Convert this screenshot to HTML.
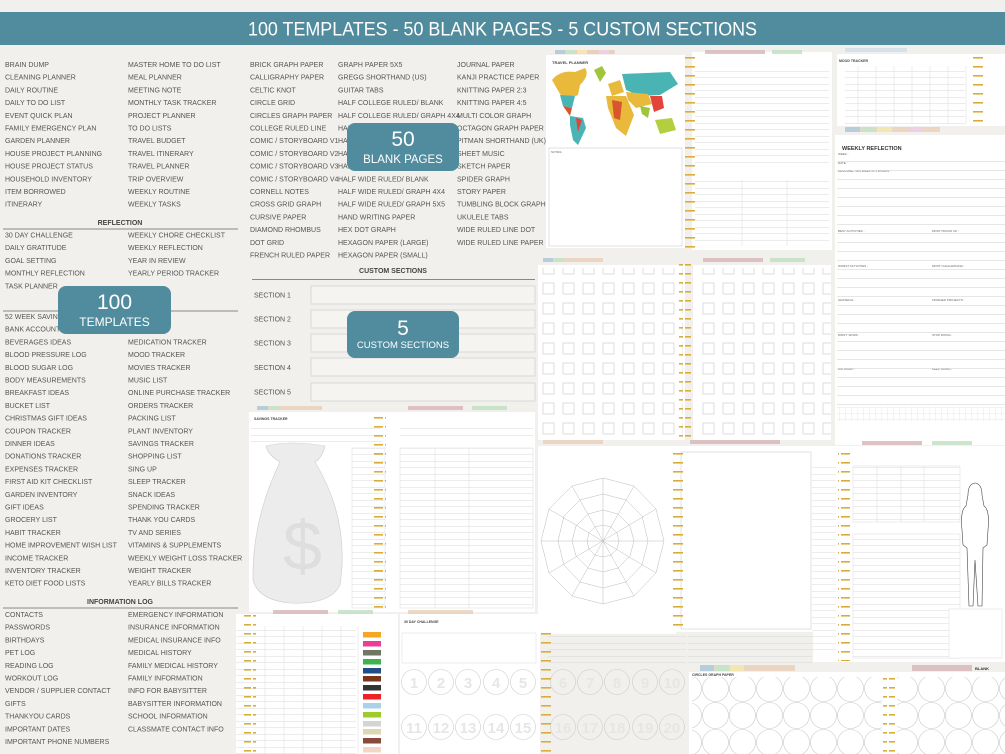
<!DOCTYPE html>
<html><head><meta charset="utf-8"><style>
html,body{margin:0;padding:0;background:#f1f0ec;}
svg{display:block;font-family:"Liberation Sans",sans-serif;}
.t{font-size:7px;fill:#555;}
.h{font-size:7px;fill:#444;font-weight:bold;}
.s{font-size:3px;fill:#666;}
</style></head><body>
<svg width="1005" height="754" viewBox="0 0 1005 754" xmlns="http://www.w3.org/2000/svg">
<defs>
<pattern id="ring" width="12" height="9" patternUnits="userSpaceOnUse"><rect x="1" y="3" width="10" height="1.6" fill="#d9ad3a"/></pattern>
<pattern id="ln" width="10" height="9" patternUnits="userSpaceOnUse"><rect width="10" height="0.6" y="8" fill="#d4d4d4"/></pattern>
<pattern id="ln6" width="10" height="6.5" patternUnits="userSpaceOnUse"><rect width="10" height="0.5" y="6" fill="#d8d8d8"/></pattern>
<pattern id="sq" width="20" height="20" patternUnits="userSpaceOnUse"><rect x="3" y="3" width="11" height="11" fill="none" stroke="#d0d0d0" stroke-width="0.7"/></pattern>
<pattern id="cir" width="27" height="27" patternUnits="userSpaceOnUse"><circle cx="13.5" cy="13.5" r="13" fill="none" stroke="#c8c8c8" stroke-width="0.6"/></pattern>
<pattern id="grid" width="6" height="6" patternUnits="userSpaceOnUse"><path d="M6 0V6M0 6H6" stroke="#d0d0d0" stroke-width="0.5" fill="none"/></pattern>
</defs>

<!-- header -->
<rect x="0" y="12" width="1005" height="33" fill="#518c9e"/>
<text x="248" y="35.5" textLength="509" lengthAdjust="spacingAndGlyphs" font-size="19.5" fill="#fff">100 TEMPLATES - 50 BLANK PAGES - 5 CUSTOM SECTIONS</text>

<!-- left list -->
<g class="t">
<text x="5" y="67">BRAIN DUMP</text><text x="5" y="79.7">CLEANING PLANNER</text><text x="5" y="92.4">DAILY ROUTINE</text><text x="5" y="105.1">DAILY TO DO LIST</text><text x="5" y="117.8">EVENT QUICK PLAN</text><text x="5" y="130.5">FAMILY EMERGENCY PLAN</text><text x="5" y="143.2">GARDEN PLANNER</text><text x="5" y="155.9">HOUSE PROJECT PLANNING</text><text x="5" y="168.6">HOUSE PROJECT STATUS</text><text x="5" y="181.3">HOUSEHOLD INVENTORY</text><text x="5" y="194">ITEM BORROWED</text><text x="5" y="206.7">ITINERARY</text>
<text x="128" y="67">MASTER HOME TO DO LIST</text><text x="128" y="79.7">MEAL PLANNER</text><text x="128" y="92.4">MEETING NOTE</text><text x="128" y="105.1">MONTHLY TASK TRACKER</text><text x="128" y="117.8">PROJECT PLANNER</text><text x="128" y="130.5">TO DO LISTS</text><text x="128" y="143.2">TRAVEL BUDGET</text><text x="128" y="155.9">TRAVEL ITINERARY</text><text x="128" y="168.6">TRAVEL PLANNER</text><text x="128" y="181.3">TRIP OVERVIEW</text><text x="128" y="194">WEEKLY ROUTINE</text><text x="128" y="206.7">WEEKLY TASKS</text>
<text x="5" y="237.5">30 DAY CHALLENGE</text><text x="5" y="250.2">DAILY GRATITUDE</text><text x="5" y="262.9">GOAL SETTING</text><text x="5" y="275.6">MONTHLY REFLECTION</text><text x="5" y="288.3">TASK PLANNER</text>
<text x="128" y="237.5">WEEKLY CHORE CHECKLIST</text><text x="128" y="250.2">WEEKLY REFLECTION</text><text x="128" y="262.9">YEAR IN REVIEW</text><text x="128" y="275.6">YEARLY PERIOD TRACKER</text>
<text x="5" y="319">52 WEEK SAVINGS</text><text x="5" y="331.7">BANK ACCOUNT TRACKER</text><text x="5" y="344.4">BEVERAGES IDEAS</text><text x="5" y="357.1">BLOOD PRESSURE LOG</text><text x="5" y="369.8">BLOOD SUGAR LOG</text><text x="5" y="382.5">BODY MEASUREMENTS</text><text x="5" y="395.2">BREAKFAST IDEAS</text><text x="5" y="407.9">BUCKET LIST</text><text x="5" y="420.6">CHRISTMAS GIFT IDEAS</text><text x="5" y="433.3">COUPON TRACKER</text><text x="5" y="446">DINNER IDEAS</text><text x="5" y="458.7">DONATIONS TRACKER</text><text x="5" y="471.4">EXPENSES TRACKER</text><text x="5" y="484.1">FIRST AID KIT CHECKLIST</text><text x="5" y="496.8">GARDEN INVENTORY</text><text x="5" y="509.5">GIFT IDEAS</text><text x="5" y="522.2">GROCERY LIST</text><text x="5" y="534.9">HABIT TRACKER</text><text x="5" y="547.6">HOME IMPROVEMENT WISH LIST</text><text x="5" y="560.3">INCOME TRACKER</text><text x="5" y="573">INVENTORY TRACKER</text><text x="5" y="585.7">KETO DIET FOOD LISTS</text>
<text x="128" y="319">LOVE LIST</text><text x="128" y="331.7">MEAL PLAN</text>
<text x="128" y="344.4">MEDICATION TRACKER</text><text x="128" y="357.1">MOOD TRACKER</text><text x="128" y="369.8">MOVIES TRACKER</text><text x="128" y="382.5">MUSIC LIST</text><text x="128" y="395.2">ONLINE PURCHASE TRACKER</text><text x="128" y="407.9">ORDERS TRACKER</text><text x="128" y="420.6">PACKING LIST</text><text x="128" y="433.3">PLANT INVENTORY</text><text x="128" y="446">SAVINGS TRACKER</text><text x="128" y="458.7">SHOPPING LIST</text><text x="128" y="471.4">SING UP</text><text x="128" y="484.1">SLEEP TRACKER</text><text x="128" y="496.8">SNACK IDEAS</text><text x="128" y="509.5">SPENDING TRACKER</text><text x="128" y="522.2">THANK YOU CARDS</text><text x="128" y="534.9">TV AND SERIES</text><text x="128" y="547.6">VITAMINS &amp; SUPPLEMENTS</text><text x="128" y="560.3">WEEKLY WEIGHT LOSS TRACKER</text><text x="128" y="573">WEIGHT TRACKER</text><text x="128" y="585.7">YEARLY BILLS TRACKER</text>
<text x="5" y="617">CONTACTS</text><text x="5" y="629.7">PASSWORDS</text><text x="5" y="642.4">BIRTHDAYS</text><text x="5" y="655.1">PET LOG</text><text x="5" y="667.8">READING LOG</text><text x="5" y="680.5">WORKOUT LOG</text><text x="5" y="693.2">VENDOR / SUPPLIER CONTACT</text><text x="5" y="705.9">GIFTS</text><text x="5" y="718.6">THANKYOU CARDS</text><text x="5" y="731.3">IMPORTANT DATES</text><text x="5" y="744">IMPORTANT PHONE NUMBERS</text>
<text x="128" y="617">EMERGENCY INFORMATION</text><text x="128" y="629.7">INSURANCE INFORMATION</text><text x="128" y="642.4">MEDICAL INSURANCE INFO</text><text x="128" y="655.1">MEDICAL HISTORY</text><text x="128" y="667.8">FAMILY MEDICAL HISTORY</text><text x="128" y="680.5">FAMILY INFORMATION</text><text x="128" y="693.2">INFO FOR BABYSITTER</text><text x="128" y="705.9">BABYSITTER INFORMATION</text><text x="128" y="718.6">SCHOOL INFORMATION</text><text x="128" y="731.3">CLASSMATE CONTACT INFO</text>

<text x="250" y="67">BRICK GRAPH PAPER</text><text x="250" y="79.7">CALLIGRAPHY PAPER</text><text x="250" y="92.4">CELTIC KNOT</text><text x="250" y="105.1">CIRCLE GRID</text><text x="250" y="117.8">CIRCLES GRAPH PAPER</text><text x="250" y="130.5">COLLEGE RULED LINE</text><text x="250" y="143.2">COMIC / STORYBOARD V1</text><text x="250" y="155.9">COMIC / STORYBOARD V2</text><text x="250" y="168.6">COMIC / STORYBOARD V3</text><text x="250" y="181.3">COMIC / STORYBOARD V4</text><text x="250" y="194">CORNELL NOTES</text><text x="250" y="206.7">CROSS GRID GRAPH</text><text x="250" y="219.4">CURSIVE PAPER</text><text x="250" y="232.1">DIAMOND RHOMBUS</text><text x="250" y="244.8">DOT GRID</text><text x="250" y="257.5">FRENCH RULED PAPER</text>
<text x="338" y="67">GRAPH PAPER 5X5</text><text x="338" y="79.7">GREGG SHORTHAND (US)</text><text x="338" y="92.4">GUITAR TABS</text><text x="338" y="105.1">HALF COLLEGE RULED/ BLANK</text><text x="338" y="117.8">HALF COLLEGE RULED/ GRAPH 4X4</text><text x="338" y="130.5">HALF COLLEGE</text><text x="338" y="143.2">HALF COLLEGE</text><text x="338" y="155.9">HALF NARROW</text><text x="338" y="168.6">HALF NARROW</text><text x="338" y="181.3">HALF WIDE RULED/ BLANK</text><text x="338" y="194">HALF WIDE RULED/ GRAPH 4X4</text><text x="338" y="206.7">HALF WIDE RULED/ GRAPH 5X5</text><text x="338" y="219.4">HAND WRITING PAPER</text><text x="338" y="232.1">HEX DOT GRAPH</text><text x="338" y="244.8">HEXAGON PAPER (LARGE)</text><text x="338" y="257.5">HEXAGON PAPER (SMALL)</text>
<text x="457" y="67">JOURNAL PAPER</text><text x="457" y="79.7">KANJI PRACTICE PAPER</text><text x="457" y="92.4">KNITTING PAPER 2:3</text><text x="457" y="105.1">KNITTING PAPER 4:5</text><text x="457" y="117.8">MULTI COLOR GRAPH</text><text x="457" y="130.5">OCTAGON GRAPH PAPER</text><text x="457" y="143.2">PITMAN SHORTHAND (UK)</text><text x="457" y="155.9">SHEET MUSIC</text><text x="457" y="168.6">SKETCH PAPER</text><text x="457" y="181.3">SPIDER GRAPH</text><text x="457" y="194">STORY PAPER</text><text x="457" y="206.7">TUMBLING BLOCK GRAPH</text><text x="457" y="219.4">UKULELE TABS</text><text x="457" y="232.1">WIDE RULED LINE DOT</text><text x="457" y="244.8">WIDE RULED LINE PAPER</text>
</g>
<g class="h" text-anchor="middle">
<text x="120" y="225">REFLECTION</text><text x="120" y="604">INFORMATION LOG</text><text x="393" y="273">CUSTOM SECTIONS</text>
</g>
<g stroke="#666" stroke-width="0.8">
<line x1="3" y1="229" x2="238" y2="229"/><line x1="3" y1="311" x2="238" y2="311"/><line x1="3" y1="608" x2="238" y2="608"/><line x1="252" y1="279.5" x2="535" y2="279.5"/>
</g>
<!-- custom sections -->
<g class="t"><text x="254" y="297.5">SECTION 1</text><text x="254" y="321.5">SECTION 2</text><text x="254" y="345.5">SECTION 3</text><text x="254" y="370">SECTION 4</text><text x="254" y="394.5">SECTION 5</text></g>
<g fill="#f5f4f1" stroke="#d2d2d2" stroke-width="0.8">
<rect x="311" y="286" width="224" height="18"/><rect x="311" y="310" width="224" height="18"/><rect x="311" y="334" width="224" height="18"/><rect x="311" y="358" width="224" height="18"/><rect x="311" y="383" width="224" height="18"/>
</g>

<!-- ============ right collage ============ -->
<rect x="546" y="55" width="139" height="193" fill="#fff"/>
<rect x="549" y="148" width="133" height="98" fill="#fff" stroke="#ccc" stroke-width="0.6"/>
<text x="552" y="64" font-size="4" font-weight="bold" fill="#444">TRAVEL PLANNER</text>
<text x="551" y="153" class="s">NOTES:</text>
<g>
<path d="M552 80 Q560 70 575 72 L585 68 Q590 75 580 85 L578 95 L566 100 L560 94 Z" fill="#e8b93a"/>
<path d="M560 95 L575 96 L572 108 L563 106 Z" fill="#4ab3b3"/>
<path d="M563 106 L572 108 L570 116 Z" fill="#d8552d"/>
<path d="M570 116 L583 118 L586 128 L578 145 L573 140 L570 125 Z" fill="#4ab3b3"/>
<path d="M576 118 L582 120 L578 132 Z" fill="#e2433a"/>
<path d="M594 70 L602 66 L606 73 L600 82 Z" fill="#9fc63a"/>
<path d="M608 84 L620 80 L624 92 L612 96 Z" fill="#e8b93a"/>
<path d="M606 96 L626 96 L634 115 L626 136 L616 128 L608 108 Z" fill="#e8b93a"/>
<path d="M612 100 L622 102 L620 120 L614 118 Z" fill="#d8552d"/>
<path d="M622 74 L670 72 L678 84 L660 95 L640 96 L626 90 Z" fill="#4ab3b3"/>
<path d="M626 92 L648 94 L652 104 L636 108 L628 100 Z" fill="#e8b93a"/>
<path d="M650 96 L662 96 L664 108 L654 112 Z" fill="#e2433a"/>
<path d="M640 106 L650 108 L648 118 L642 114 Z" fill="#9fc63a"/>
<path d="M655 120 L672 118 L676 130 L660 134 Z" fill="#b3cf3f"/>
</g>
<rect x="692" y="52" width="140" height="198" fill="#fff"/>
<rect x="695" y="68" width="134" height="100" fill="url(#ln6)"/>
<rect x="695" y="180" width="134" height="66" fill="url(#ln6)"/>
<g stroke="#ddd" stroke-width="0.5"><line x1="742" y1="180" x2="742" y2="246"/><line x1="787" y1="180" x2="787" y2="246"/></g>
<rect x="837" y="54" width="168" height="72" fill="#fff"/>
<text x="839" y="62" font-size="3.5" font-weight="bold" fill="#444">MOOD TRACKER</text>
<rect x="845" y="68" width="120" height="56" fill="url(#ln6)"/>
<g stroke="#ddd" stroke-width="0.5"><line x1="858" y1="66" x2="858" y2="124"/><line x1="876" y1="66" x2="876" y2="124"/><line x1="894" y1="66" x2="894" y2="124"/><line x1="912" y1="66" x2="912" y2="124"/><line x1="930" y1="66" x2="930" y2="124"/><line x1="948" y1="66" x2="948" y2="124"/><line x1="966" y1="66" x2="966" y2="124"/></g>
<rect x="835" y="135" width="170" height="310" fill="#fff"/>
<text x="842" y="150" font-size="5.5" font-weight="bold" fill="#333">WEEKLY REFLECTION</text>
<g class="s"><text x="838" y="155">WEEK :</text><text x="838" y="164">DATE :</text><text x="838" y="172">DESCRIBE THIS WEEK IN 3 WORDS :</text><text x="838" y="232">BEST ACTIVITIES :</text><text x="932" y="232">MOST PROUD OF :</text><text x="838" y="267">WORST ACTIVITIES :</text><text x="932" y="267">MOST CHALLENGING :</text><text x="838" y="301">GRATEFUL :</text><text x="932" y="301">FINISHED PROJECTS :</text><text x="838" y="336">DIDN'T WORK :</text><text x="932" y="336">STOP DOING :</text><text x="838" y="370">DID WORK :</text><text x="932" y="370">KEEP DOING :</text></g>
<rect x="837" y="160" width="168" height="245" fill="url(#ln)"/>
<rect x="837" y="407" width="168" height="14" fill="url(#grid)"/>
<rect x="538" y="265" width="147" height="175" fill="#fff"/>
<rect x="538" y="268" width="145" height="172" fill="url(#sq)"/>
<rect x="693" y="265" width="138" height="175" fill="#fff"/>
<rect x="695" y="268" width="136" height="172" fill="url(#sq)"/>
<rect x="249" y="412" width="286" height="200" fill="#fff"/>
<text x="254" y="420" font-size="3.5" font-weight="bold" fill="#444">SAVINGS TRACKER</text>
<rect x="251" y="423" width="130" height="20" fill="url(#ln6)"/>
<rect x="400" y="423" width="133" height="16" fill="url(#ln6)"/>
<path d="M266 446 Q290 440 325 446 Q322 458 315 462 Q350 520 340 585 Q330 605 290 603 Q258 600 253 580 Q252 520 280 462 Q268 455 266 446 Z" fill="#ececec" stroke="#ccc" stroke-width="0.6"/>
<text x="283" y="570" font-size="70" fill="#dedede">$</text>
<rect x="352" y="448" width="33" height="160" fill="url(#ln6)" stroke="#ddd" stroke-width="0.5"/>
<rect x="400" y="448" width="133" height="160" fill="url(#ln6)" stroke="#ddd" stroke-width="0.5"/>
<g stroke="#ddd" stroke-width="0.5"><line x1="435" y1="448" x2="435" y2="608"/><line x1="469" y1="448" x2="469" y2="608"/></g>
<rect x="538" y="446" width="138" height="188" fill="#fff"/>
<g fill="none" stroke="#bbb" stroke-width="0.5">
<polygon points="603,478 634,486 656,509 664,541 656,573 634,596 603,604 572,596 549,573 541,541 549,509 572,486"/>
<polygon points="603,494 626,500 642,516 648,541 642,565 626,582 603,588 580,582 564,565 558,541 564,516 580,500"/>
<polygon points="603,510 618,514 630,526 634,541 630,556 618,568 603,572 588,568 576,556 572,541 576,526 588,514"/>
<polygon points="603,525 611,527 617,533 619,541 617,549 611,555 603,557 595,555 589,549 587,541 589,533 595,527"/>
<path d="M603 478V604M541 541H664M572 486L634 596M634 486L572 596M549 509L656 573M656 509L549 573"/>
</g>
<rect x="676" y="446" width="140" height="186" fill="#fff"/>
<rect x="681" y="452" width="130" height="177" fill="#fff" stroke="#ccc" stroke-width="0.6"/>
<rect x="813" y="446" width="192" height="216" fill="#fff"/>
<rect x="812" y="466" width="24" height="190" fill="url(#ln6)"/>
<rect x="853" y="466" width="107" height="56" fill="url(#ln6)" stroke="#ddd" stroke-width="0.5"/>
<g stroke="#ddd" stroke-width="0.5"><line x1="877" y1="466" x2="877" y2="522"/><line x1="901" y1="466" x2="901" y2="522"/><line x1="924" y1="466" x2="924" y2="522"/></g>
<rect x="853" y="534" width="107" height="124" fill="url(#ln6)" stroke="#ddd" stroke-width="0.5"/>
<rect x="949" y="609" width="53" height="49" fill="#fff" stroke="#ddd" stroke-width="0.5"/>
<path d="M975 483 Q968 484 968 495 L966 506 Q960 510 962 530 L963 545 L967 548 L969 606 L973 606 L975 560 L978 606 L982 606 L983 548 L987 545 L988 530 Q990 510 984 506 L982 495 Q982 484 975 483 Z" fill="none" stroke="#444" stroke-width="0.6"/>
<rect x="236" y="614" width="162" height="140" fill="#fff"/>
<rect x="236" y="628" width="120" height="126" fill="url(#ln6)"/>
<g stroke="#ddd" stroke-width="0.5"><line x1="265" y1="626" x2="265" y2="754"/><line x1="284" y1="626" x2="284" y2="754"/><line x1="303" y1="626" x2="303" y2="754"/><line x1="322" y1="626" x2="322" y2="754"/><line x1="341" y1="626" x2="341" y2="754"/><line x1="358" y1="626" x2="358" y2="754"/></g>
<g>
<rect x="363" y="632" width="18" height="5.5" fill="#f5a623"/><rect x="363" y="641" width="18" height="5.5" fill="#ec3e98"/><rect x="363" y="650" width="18" height="5.5" fill="#6f7663"/><rect x="363" y="659" width="18" height="5.5" fill="#3cb44b"/><rect x="363" y="668" width="18" height="5.5" fill="#1d4f86"/><rect x="363" y="676" width="18" height="5.5" fill="#7a3618"/><rect x="363" y="685" width="18" height="5.5" fill="#333"/><rect x="363" y="694" width="18" height="5.5" fill="#ec2227"/><rect x="363" y="703" width="18" height="5.5" fill="#a8d3e6"/><rect x="363" y="712" width="18" height="5.5" fill="#9ccd2a"/><rect x="363" y="721" width="18" height="5.5" fill="#d4d4d4"/><rect x="363" y="729" width="18" height="5.5" fill="#ddd6b3"/><rect x="363" y="738" width="18" height="5.5" fill="#8a4a3a"/><rect x="363" y="747" width="18" height="5.5" fill="#f2d7c7"/>
</g>
<rect x="400" y="614" width="140" height="140" fill="#fff"/>
<text x="404" y="623" font-size="3.5" font-weight="bold" fill="#444">30 DAY CHALLENGE</text>
<rect x="402" y="633" width="134" height="30" fill="#fff" stroke="#ddd" stroke-width="0.5"/>
<g fill="none" stroke="#ccc" stroke-width="0.6">
<circle cx="414" cy="682" r="12.5"/><circle cx="441" cy="682" r="12.5"/><circle cx="468" cy="682" r="12.5"/><circle cx="496" cy="682" r="12.5"/><circle cx="523" cy="682" r="12.5"/>
<circle cx="414" cy="727" r="12.5"/><circle cx="441" cy="727" r="12.5"/><circle cx="468" cy="727" r="12.5"/><circle cx="496" cy="727" r="12.5"/><circle cx="523" cy="727" r="12.5"/>
<circle cx="563" cy="682" r="12.5"/><circle cx="590" cy="682" r="12.5"/><circle cx="617" cy="682" r="12.5"/><circle cx="645" cy="682" r="12.5"/><circle cx="672" cy="682" r="12.5"/>
<circle cx="563" cy="727" r="12.5"/><circle cx="590" cy="727" r="12.5"/><circle cx="617" cy="727" r="12.5"/><circle cx="645" cy="727" r="12.5"/><circle cx="672" cy="727" r="12.5"/>
</g>
<g font-size="15" font-weight="bold" fill="#e6e6e6" text-anchor="middle">
<text x="414" y="688">1</text><text x="441" y="688">2</text><text x="468" y="688">3</text><text x="496" y="688">4</text><text x="523" y="688">5</text>
<text x="414" y="733">11</text><text x="441" y="733">12</text><text x="468" y="733">13</text><text x="496" y="733">14</text><text x="523" y="733">15</text>
</g>
<rect x="548" y="633" width="138" height="30" fill="url(#ln6)"/>
<g font-size="15" font-weight="bold" fill="#e6e6e6" text-anchor="middle">
<text x="563" y="688">6</text><text x="590" y="688">7</text><text x="617" y="688">8</text><text x="645" y="688">9</text><text x="672" y="688">10</text>
<text x="563" y="733">16</text><text x="590" y="733">17</text><text x="617" y="733">18</text><text x="645" y="733">19</text><text x="672" y="733">20</text>
</g>
<rect x="688" y="632" width="124" height="32" fill="url(#ln6)"/>
<rect x="689" y="672" width="316" height="82" fill="#fff"/>
<text x="692" y="676" font-size="3.5" font-weight="bold" fill="#444">CIRCLES GRAPH PAPER</text>
<rect x="692" y="677" width="190" height="77" fill="url(#cir)"/>
<rect x="897" y="677" width="108" height="77" fill="url(#cir)"/>

<g opacity="0.8">
<rect x="555" y="50" width="60" height="4" rx="2" fill="#e9c9b0"/><rect x="555" y="50" width="10" height="4" fill="#a8c6d9"/><rect x="566" y="50" width="10" height="4" fill="#bfe0c0"/><rect x="577" y="50" width="10" height="4" fill="#f3e5a2"/><rect x="599" y="50" width="10" height="4" fill="#efc9e2"/>
<rect x="705" y="50" width="60" height="4" fill="#d7b5b8"/><rect x="772" y="50" width="30" height="4" fill="#bfe0c0"/>
<rect x="845" y="127" width="95" height="5" fill="#e9d0b8"/><rect x="845" y="127" width="15" height="5" fill="#a8c6d9"/><rect x="861" y="127" width="15" height="5" fill="#bfe0c0"/><rect x="877" y="127" width="15" height="5" fill="#f3e5a2"/><rect x="909" y="127" width="15" height="5" fill="#efc9e2"/>
<rect x="845" y="48" width="62" height="4" fill="#cfe0e8"/>
<rect x="543" y="258" width="60" height="4" fill="#e9d0b8"/><rect x="543" y="258" width="10" height="4" fill="#a8c6d9"/><rect x="554" y="258" width="10" height="4" fill="#bfe0c0"/>
<rect x="703" y="258" width="60" height="4" fill="#d7b5b8"/><rect x="770" y="258" width="35" height="4" fill="#bfe0c0"/>
<rect x="257" y="406" width="65" height="4" fill="#e9d0b8"/><rect x="257" y="406" width="11" height="4" fill="#a8c6d9"/><rect x="269" y="406" width="11" height="4" fill="#bfe0c0"/>
<rect x="408" y="406" width="55" height="4" fill="#d7b5b8"/><rect x="472" y="406" width="35" height="4" fill="#bfe0c0"/>
<rect x="543" y="440" width="60" height="4" fill="#e9d0b8"/><rect x="690" y="440" width="90" height="4" fill="#d7b5b8"/>
<rect x="862" y="441" width="60" height="4" fill="#d7b5b8"/><rect x="932" y="441" width="40" height="4" fill="#bfe0c0"/>
<rect x="273" y="610" width="55" height="4" fill="#d7b5b8"/><rect x="338" y="610" width="35" height="4" fill="#bfe0c0"/><rect x="408" y="610" width="65" height="4" fill="#e9d0b8"/>
<rect x="700" y="665" width="95" height="6" fill="#e9d0b8"/><rect x="700" y="665" width="14" height="6" fill="#a8c6d9"/><rect x="715" y="665" width="14" height="6" fill="#bfe0c0"/><rect x="730" y="665" width="14" height="6" fill="#f3e5a2"/>
<rect x="912" y="665" width="60" height="6" fill="#d7b5b8"/>
</g>
<text x="975" y="670" font-size="4" font-weight="bold" fill="#333">BLANK</text>

<rect x="683" y="55" width="12" height="195" fill="url(#ring)"/>
<rect x="973" y="52" width="12" height="72" fill="url(#ring)"/>
<rect x="679" y="263" width="12" height="176" fill="url(#ring)"/>
<rect x="374" y="414" width="12" height="194" fill="url(#ring)"/>
<rect x="671" y="446" width="12" height="186" fill="url(#ring)"/>
<rect x="838" y="449" width="12" height="212" fill="url(#ring)"/>
<rect x="244" y="614" width="12" height="140" fill="url(#ring)"/>
<rect x="539" y="630" width="12" height="124" fill="url(#ring)"/>
<rect x="883" y="676" width="12" height="78" fill="url(#ring)"/>

<rect x="58" y="286" width="113" height="48" rx="8" fill="#518c9e"/>
<text x="114.5" y="309" text-anchor="middle" font-size="21" fill="#fff">100</text>
<text x="114.5" y="326" text-anchor="middle" font-size="12" fill="#fff">TEMPLATES</text>
<rect x="347" y="123" width="112" height="48" rx="8" fill="#518c9e"/>
<text x="403" y="146" text-anchor="middle" font-size="21" fill="#fff">50</text>
<text x="403" y="163" text-anchor="middle" font-size="11.5" fill="#fff">BLANK PAGES</text>
<rect x="347" y="311" width="112" height="47" rx="8" fill="#518c9e"/>
<text x="403" y="335" text-anchor="middle" font-size="21" fill="#fff">5</text>
<text x="403" y="348" text-anchor="middle" font-size="9.5" fill="#fff">CUSTOM SECTIONS</text>
</svg>
</body></html>
